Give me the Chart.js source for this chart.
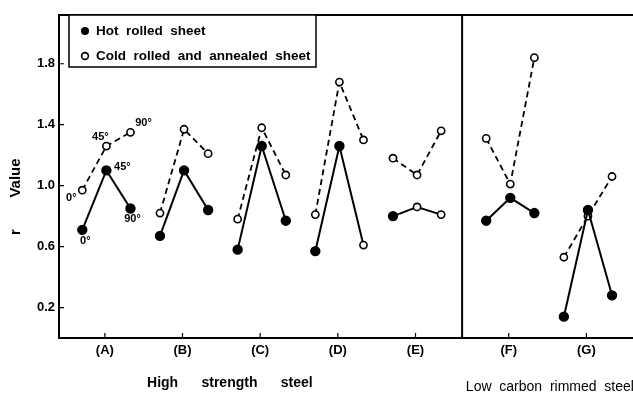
<!DOCTYPE html>
<html lang="en">
<head>
    <meta charset="UTF-8">
    <title>r Value of steel sheets</title>
    <script src="https://cdn.jsdelivr.net/npm/chart.js"></script>
    <style>
        body {
            margin: 0;
            background-color: #ffffff;
        }
        .chart-container {
            position: relative;
            width: 633px;
            height: 396px;
        }
    </style>
</head>
<body>

<div class="chart-container">
    <canvas id="rChart" width="633" height="396"></canvas>
</div>

<script>
    // steel grades along the x axis
    const groups = ['(A)', '(B)', '(C)', '(D)', '(E)', '(F)', '(G)'];
    const groupPos = [1, 2, 3, 4, 5, 6.2, 7.2];
    // direction to rolling: 0, 45, 90 degrees
    const angles = ['0°', '45°', '90°'];
    const angleOffset = [-0.29, 0.02, 0.33];

    // hot rolled sheet
    const hot0 = [0.71, 0.67, 0.58, 0.57, 0.80, 0.77, 0.14];
    const hot45 = [1.10, 1.10, 1.26, 1.26, 0.86, 0.92, 0.84];
    const hot90 = [0.85, 0.84, 0.77, 0.61, 0.81, 0.82, 0.28];

    // cold rolled and annealed sheet
    const cold0 = [0.97, 0.82, 0.78, 0.81, 1.18, 1.31, 0.53];
    const cold45 = [1.26, 1.37, 1.38, 1.68, 1.07, 1.01, 0.80];
    const cold90 = [1.35, 1.21, 1.07, 1.30, 1.36, 1.84, 1.06];

    const yTicks = [0.2, 0.6, 1.0, 1.4, 1.8];

    // hot rolled marks that came out hollow in the print: [group, angle]
    const hollowHot = [[3, 2], [4, 1], [4, 2]];

    const FONT = '"Liberation Sans", Arial, sans-serif';

    function groupData(a, b, c, g) {
        return [a[g], b[g], c[g]].map((v, i) => ({x: groupPos[g] + angleOffset[i], y: v}));
    }

    function isHollow(g, i) {
        return hollowHot.some(h => h[0] === g && h[1] === i);
    }

    const datasets = [];
    groups.forEach((name, g) => {
        datasets.push({
            label: 'Cold rolled and annealed sheet ' + name,
            data: groupData(cold0, cold45, cold90, g),
            showLine: true,
            borderColor: '#000',
            borderWidth: 1.8,
            borderDash: [6, 4],
            pointRadius: 3.6,
            pointBorderWidth: 1.6,
            pointBorderColor: '#000',
            pointBackgroundColor: '#fff',
            order: 2
        });
        datasets.push({
            label: 'Hot rolled sheet ' + name,
            data: groupData(hot0, hot45, hot90, g),
            showLine: true,
            borderColor: '#000',
            borderWidth: 2,
            pointRadius: angles.map((a, i) => isHollow(g, i) ? 3.6 : 4.4),
            pointBorderWidth: 1.6,
            pointBorderColor: '#000',
            pointBackgroundColor: angles.map((a, i) => isHollow(g, i) ? '#fff' : '#000'),
            order: 1
        });
    });

    // angle labels written beside group (A): [series, angle, dx, dy]
    const angleNotes = [
        ['cold', 0, -11, 8],
        ['cold', 1, -6, -9],
        ['cold', 2, 13, -9],
        ['hot', 0, 3, 11],
        ['hot', 1, 16, -3],
        ['hot', 2, 2, 10]
    ];

    const figurePlugin = {
        id: 'figure',
        afterDatasetsDraw(chart) {
            const ctx = chart.ctx;
            const area = chart.chartArea;
            const xs = chart.scales.x;
            const ys = chart.scales.y;
            ctx.save();
            ctx.strokeStyle = '#000';
            ctx.fillStyle = '#000';

            // frame top and divider between the two steel kinds
            ctx.lineWidth = 2;
            ctx.beginPath();
            ctx.moveTo(area.left - 1, area.top);
            ctx.lineTo(area.right, area.top);
            const xd = xs.getPixelForValue(5.6);
            ctx.moveTo(xd, area.top);
            ctx.lineTo(xd, area.bottom);
            ctx.stroke();

            // inward tick marks
            ctx.lineWidth = 1.2;
            ctx.beginPath();
            yTicks.forEach(v => {
                const y = ys.getPixelForValue(v);
                ctx.moveTo(area.left, y);
                ctx.lineTo(area.left + 5, y);
            });
            groupPos.forEach(v => {
                const x = xs.getPixelForValue(v);
                ctx.moveTo(x, area.bottom);
                ctx.lineTo(x, area.bottom - 5);
            });
            ctx.stroke();

            // angle notes for group A
            ctx.font = 'bold 11px ' + FONT;
            ctx.textAlign = 'center';
            ctx.textBaseline = 'middle';
            angleNotes.forEach(n => {
                const src = n[0] === 'hot' ? [hot0, hot45, hot90] : [cold0, cold45, cold90];
                const x = xs.getPixelForValue(groupPos[0] + angleOffset[n[1]]) + n[2];
                const y = ys.getPixelForValue(src[n[1]][0]) + n[3];
                ctx.fillText(angles[n[1]], x, y);
            });

            // legend box
            ctx.lineWidth = 1.5;
            ctx.fillStyle = '#fff';
            ctx.fillRect(69, area.top, 247, 52);
            ctx.strokeRect(69, area.top, 247, 52);
            ctx.fillStyle = '#000';
            ctx.beginPath();
            ctx.arc(85, 31, 4, 0, Math.PI * 2);
            ctx.fill();
            ctx.beginPath();
            ctx.lineWidth = 1.6;
            ctx.arc(85, 56, 3.4, 0, Math.PI * 2);
            ctx.stroke();
            ctx.font = 'bold 13.5px ' + FONT;
            ctx.textAlign = 'left';
            ctx.fillText('Hot  rolled  sheet', 96, 31);
            ctx.fillText('Cold  rolled  and  annealed  sheet', 96, 56);

            // axis titles
            ctx.font = 'bold 14px ' + FONT;
            ctx.textAlign = 'center';
            ctx.fillText('High      strength      steel', xs.getPixelForValue(2.61), 383);
            ctx.font = '14px ' + FONT;
            ctx.fillText('Low  carbon  rimmed  steel', xs.getPixelForValue(6.73), 387);

            ctx.translate(16, 200);
            ctx.rotate(-Math.PI / 2);
            ctx.font = 'bold 15px ' + FONT;
            ctx.fillText('Value', 22, 0);
            ctx.fillText('r', -32, 0);
            ctx.restore();
        }
    };

    const ctx = document.getElementById('rChart').getContext('2d');
    new Chart(ctx, {
        type: 'scatter',
        data: {datasets: datasets},
        plugins: [figurePlugin],
        options: {
            responsive: false,
            animation: false,
            layout: {
                autoPadding: false,
                padding: {top: 15, right: 0, bottom: 0, left: 0}
            },
            plugins: {
                legend: {display: false},
                tooltip: {enabled: false}
            },
            scales: {
                x: {
                    type: 'linear',
                    min: 0.41,
                    max: 7.8,
                    afterBuildTicks: scale => {
                        scale.ticks = groupPos.map(v => ({value: v}));
                    },
                    afterFit: scale => {
                        scale.height = 58;
                        scale.paddingLeft = 0;
                        scale.paddingRight = 0;
                    },
                    ticks: {
                        color: '#000',
                        padding: 5,
                        font: {family: FONT, size: 13, weight: 'bold'},
                        callback: value => groups[groupPos.indexOf(value)]
                    },
                    grid: {display: false, drawTicks: false},
                    border: {display: true, color: '#000', width: 2}
                },
                y: {
                    min: 0,
                    max: 2.12,
                    afterBuildTicks: scale => {
                        scale.ticks = yTicks.map(v => ({value: v}));
                    },
                    afterFit: scale => {
                        scale.width = 59;
                        scale.paddingTop = 0;
                        scale.paddingBottom = 0;
                    },
                    ticks: {
                        color: '#000',
                        padding: 4,
                        font: {family: FONT, size: 13, weight: 'bold'},
                        callback: value => value.toFixed(1)
                    },
                    grid: {display: false, drawTicks: false},
                    border: {display: true, color: '#000', width: 2}
                }
            }
        }
    });
</script>
</body>
</html>
